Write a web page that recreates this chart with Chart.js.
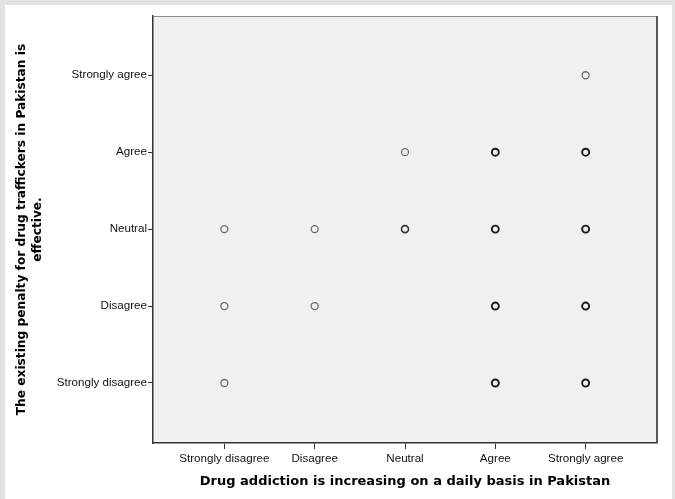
<!DOCTYPE html>
<html>
<head>
<meta charset="utf-8">
<script src="https://cdn.jsdelivr.net/npm/chart.js@4"></script>
<style>
    html, body { margin: 0; padding: 0; background: #ffffff; }
    #wrap {
        position: relative;
        width: 675px;
        height: 499px;
        box-sizing: border-box;
        border-top: 5px solid #e2e2e2;
        border-left: 5px solid #e2e2e2;
        border-right: 3px solid #e2e2e2;
        background: #ffffff;
    }
    canvas { display: block; }
</style>
</head>
<body>
<div id="wrap"><canvas id="chart" width="667" height="494"></canvas></div>
<script>
// response categories (same scale on both axes)
const levels = ['Strongly disagree', 'Disagree', 'Neutral', 'Agree', 'Strongly agree'];

// x = drug addiction increasing, y = penalty effective (1..5)
// few cases per cell (light gray circles)
const fewX = [5, 3, 1, 2, 1, 2, 1];
const fewY = [5, 4, 3, 3, 2, 2, 1];
// a few more cases (medium)
const midX = [3];
const midY = [3];
// many cases in the cell (dark circles)
const manyX = [4, 5, 4, 5, 4, 5, 4, 5];
const manyY = [4, 4, 3, 3, 2, 2, 1, 1];

const xTitle = 'Drug addiction is increasing on a daily basis in Pakistan';
const yTitle = ['The existing penalty for drug traffickers in Pakistan is', 'effective.'];

function toPoints(xs, ys) {
    return xs.map((x, i) => ({ x: x, y: ys[i] }));
}

// plot background + frame like the SPSS output
const plotBg = {
    id: 'plotBg',
    beforeDraw(chart) {
        const a = chart.chartArea;
        const c = chart.ctx;
        c.save();
        c.fillStyle = '#f0f0f0';
        c.fillRect(a.left, a.top, a.right - a.left, a.bottom - a.top);
        c.restore();
    },
    afterDatasetsDraw(chart) {
        const a = chart.chartArea;
        const c = chart.ctx;
        c.save();
        c.strokeStyle = '#8a8a8a';
        c.lineWidth = 1;
        c.beginPath();
        c.moveTo(a.left, a.top + 0.5);
        c.lineTo(a.right, a.top + 0.5);
        c.stroke();
        c.strokeStyle = '#555555';
        c.lineWidth = 2;
        c.beginPath();
        c.moveTo(a.right, a.top);
        c.lineTo(a.right, a.bottom);
        c.stroke();
        c.restore();
    }
};

const ticksFont = { family: 'Liberation Sans, Arial, sans-serif', size: 11.6 };
const xTitleFont = { family: 'DejaVu Sans, Verdana, sans-serif', size: 13, weight: 'bold', lineHeight: 1.25 };
const yTitleFont = { family: 'DejaVu Sans, Verdana, sans-serif', size: 12.2, weight: 'bold', lineHeight: 1.3 };

const ctx = document.getElementById('chart').getContext('2d');
new Chart(ctx, {
    type: 'scatter',
    data: {
        datasets: [{
            data: toPoints(fewX, fewY),
            pointRadius: 3.5,
            pointBorderWidth: 1.3,
            pointBorderColor: '#6b6b6b',
            pointBackgroundColor: 'rgba(0,0,0,0)'
        }, {
            data: toPoints(midX, midY),
            pointRadius: 3.5,
            pointBorderWidth: 1.6,
            pointBorderColor: '#333333',
            pointBackgroundColor: 'rgba(0,0,0,0)'
        }, {
            data: toPoints(manyX, manyY),
            pointRadius: 3.5,
            pointBorderWidth: 1.9,
            pointBorderColor: '#1a1a1a',
            pointBackgroundColor: 'rgba(0,0,0,0)'
        }]
    },
    options: {
        responsive: false,
        animation: false,
        layout: { padding: { left: 0, top: 11, right: 15, bottom: 0 } },
        plugins: {
            legend: { display: false },
            tooltip: { enabled: false }
        },
        scales: {
            x: {
                type: 'linear',
                min: 0.21,
                max: 5.79,
                afterBuildTicks(scale) {
                    scale.ticks = levels.map((l, i) => ({ value: i + 1 }));
                },
                afterFit(scale) { scale.height = 56; },
                grid: {
                    display: true,
                    drawOnChartArea: false,
                    drawTicks: true,
                    tickLength: 6,
                    color: '#333333',
                    lineWidth: 1
                },
                border: { display: true, color: '#333333', width: 1.5 },
                ticks: {
                    color: '#111111',
                    font: ticksFont,
                    padding: 3,
                    maxRotation: 0,
                    autoSkip: false,
                    callback: v => levels[Math.round(v) - 1]
                },
                title: {
                    display: true,
                    text: xTitle,
                    color: '#000000',
                    font: xTitleFont,
                    padding: { top: 0, bottom: 9 }
                }
            },
            y: {
                type: 'linear',
                min: 0.22,
                max: 5.77,
                afterBuildTicks(scale) {
                    scale.ticks = levels.map((l, i) => ({ value: i + 1 }));
                },
                afterFit(scale) { scale.width = 148; },
                grid: {
                    display: true,
                    drawOnChartArea: false,
                    drawTicks: true,
                    tickLength: 5,
                    color: '#333333',
                    lineWidth: 1
                },
                border: { display: true, color: '#333333', width: 1.5 },
                ticks: {
                    color: '#111111',
                    font: ticksFont,
                    padding: 1,
                    autoSkip: false,
                    callback: v => levels[Math.round(v) - 1]
                },
                title: {
                    display: true,
                    text: yTitle,
                    color: '#000000',
                    font: yTitleFont,
                    padding: { top: 9, bottom: 0 }
                }
            }
        }
    },
    plugins: [plotBg]
});
</script>
</body>
</html>
